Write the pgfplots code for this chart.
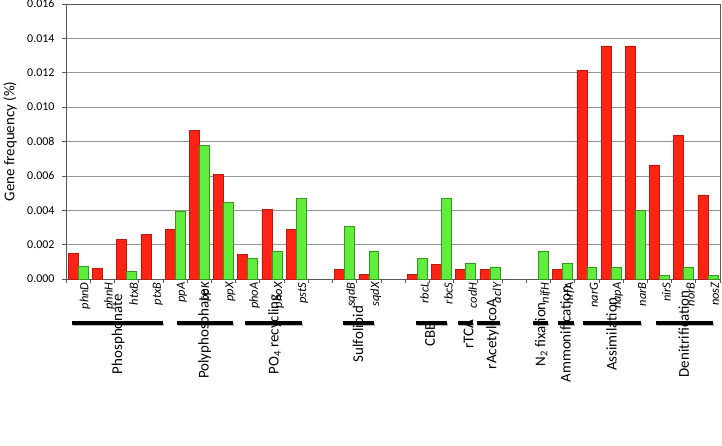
\documentclass[border=0pt]{standalone}
\usepackage{fontspec}
\setmainfont{Carlito}
\usepackage{pgfplots}
\pgfplotsset{compat=1.18}
\definecolor{barred}{RGB}{255,35,20}
\definecolor{redge}{RGB}{185,25,15}
\definecolor{bargreen}{RGB}{95,238,60}
\definecolor{gedge}{RGB}{55,150,35}
\definecolor{axgray}{RGB}{90,90,90}
\definecolor{gridgray}{RGB}{150,150,150}
\newlength\gl
\newcommand{\grp}[2]{\settowidth{\gl}{\fontsize{15}{15}\selectfont #2}%
  \node[rotate=90, anchor=center, font=\fontsize{15}{15}\selectfont] at ({#1*24.2222bp},{-55bp-0.5\gl}) {#2};}
\begin{document}
\begin{tikzpicture}
\begin{axis}[
  at={(0,0)}, anchor=south west,
  scale only axis, width=654bp, height=275bp,
  xmin=0, xmax=27, ymin=0, ymax=0.016,
  ybar=0pt, bar width=0.41,
  axis line style={draw=axgray, line width=0.8pt},
  xtick={0,...,27}, xticklabels={},
  extra x ticks={0.5,1.5,2.5,3.5,4.5,5.5,6.5,7.5,8.5,9.5,11.5,12.5,14.5,15.5,16.5,17.5,19.5,20.5,21.5,22.5,23.5,24.5,25.5,26.5},
  extra x tick labels={phnD,phnH,htxB,ptxB,ppA,ppK,ppX,phoA,phoX,pstS,sqdB,sqdX,rbcL,rbcS,codH,aclY,nifH,nrfA,narG,napA,narB,nirS,norB,nosZ},
  extra x tick style={major tick length=0pt, grid=none,
    tick label style={rotate=90, anchor=east, font=\fontsize{12.5}{12.5}\selectfont\itshape, yshift=-7bp}},
  ytick={0,0.002,0.004,0.006,0.008,0.010,0.012,0.014,0.016},
  scaled y ticks=false,
  yticklabel style={font=\fontsize{12}{12}\selectfont, xshift=-4bp,
    /pgf/number format/fixed, /pgf/number format/precision=3,
    /pgf/number format/fixed zerofill, /pgf/number format/assume math mode=true},
  tick align=outside, major tick length=4bp,
  xtick pos=bottom, ytick pos=left,
  tick style={draw=axgray, line width=0.6pt},
  ymajorgrids, grid style={draw=gridgray, line width=0.6pt},
  every axis y label/.style={at={([xshift=-56bp]axis description cs:0,0.5)}, rotate=90, anchor=center, font=\fontsize{15}{15}\selectfont},
  ylabel={Gene frequency (\%)},
  clip=false,
]
\addplot[fill=barred, draw=redge, line width=0.5pt] coordinates {
(0.5,0.00147) (1.5,0.00062) (2.5,0.00231) (3.5,0.00259) (4.5,0.00287) (5.5,0.00866) (6.5,0.00610)
(7.5,0.00144) (8.5,0.00404) (9.5,0.00289) (11.5,0.00058) (12.5,0.00029) (14.5,0.00029) (15.5,0.00087)
(16.5,0.00058) (17.5,0.00058) (20.5,0.00058) (21.5,0.01214) (22.5,0.01357) (23.5,0.01357)
(24.5,0.00664) (25.5,0.00837) (26.5,0.00489)};
\addplot[fill=bargreen, draw=gedge, line width=0.5pt] coordinates {
(0.5,0.00072) (2.5,0.00045) (4.5,0.00397) (5.5,0.00777) (6.5,0.00448)
(7.5,0.00118) (8.5,0.00163) (9.5,0.00468) (11.5,0.00305) (12.5,0.00163) (14.5,0.00118) (15.5,0.00468)
(16.5,0.00093) (17.5,0.00070) (19.5,0.00163) (20.5,0.00093) (21.5,0.00070) (22.5,0.00070) (23.5,0.00400)
(24.5,0.00020) (25.5,0.00070) (26.5,0.00020)};
\end{axis}
% group underlines (x unit = 654/27 bp)
\foreach \a/\b in {0.25/4.0, 4.58/6.9, 7.39/9.74, 11.44/12.72, 14.45/15.73, 16.18/16.80, 16.97/17.92, 19.28/19.90, 20.31/20.97, 21.35/23.74, 24.36/26.71}{
  \draw[line width=3.5bp, gray!55] ({\a*24.2222bp+1.2bp},-45.5bp) -- ({\b*24.2222bp+1.2bp},-45.5bp);
  \draw[line width=3.5bp, black] ({\a*24.2222bp},-44bp) -- ({\b*24.2222bp},-44bp);
}
\grp{2.15}{Phosphonate}
\grp{5.72}{Polyphosphate}
\grp{8.62}{PO\textsubscript{4} recycling}
\grp{12.1}{Sulfolipid}
\grp{15.03}{CBB}
\grp{16.62}{rTCA}
\grp{17.6}{rAcetyl-coA}
\grp{19.62}{N\textsubscript{2} fixation}
\grp{20.62}{Ammonification}
\grp{22.52}{Assimilation}
\grp{25.5}{Denitrification}
\pgfresetboundingbox
\path[use as bounding box] (-66bp,-167bp) rectangle (656bp,279bp);
\end{tikzpicture}
\end{document}
